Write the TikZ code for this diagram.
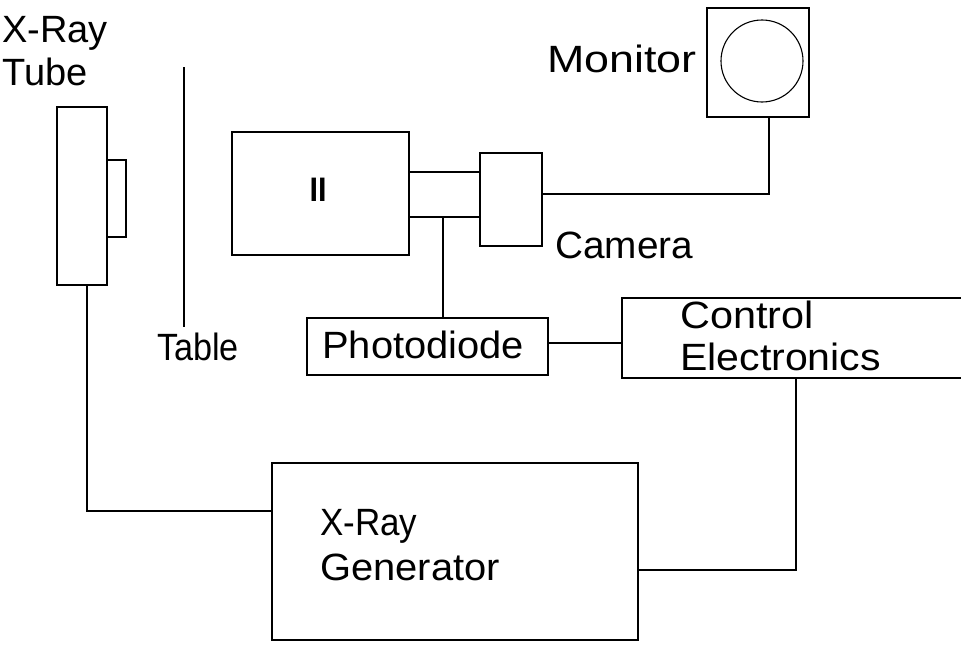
\documentclass[tikz,border=0pt]{standalone}
\usepackage{fontspec}
\usepackage{graphicx}
\setmainfont{Liberation Sans}
\tikzset{
  box/.style={draw, line width=1.3pt, inner sep=0pt, minimum width=#1},
  lbl/.style={inner sep=0pt, font=\fontsize{38}{44}\selectfont},
  wire/.style={line width=1.3pt}
}
\begin{document}
\begin{tikzpicture}[x=1pt,y=-1pt]
\useasboundingbox (0,0) rectangle (961,645);
\clip (0,0) rectangle (961,645);
% boxes
\node[box=50pt, minimum height=178pt] (tube) at (82,196) {};
\node[box=19pt, minimum height=77pt] (anode) at (116.5,198.5) {};
\node[box=177pt, minimum height=123pt] (ii) at (320.5,193.5) {};
\node[box=71pt, minimum height=45pt] (coupler) at (444.5,194.5) {};
\node[box=62pt, minimum height=93pt] (cam) at (511,199.5) {};
\node[box=102pt, minimum height=109pt] (mon) at (758,62.5) {};
\node[draw, line width=1.1pt, circle, minimum size=82pt, inner sep=0pt] (screen) at (762,61) {};
\node[box=241pt, minimum height=57pt] (pd) at (427.5,346.5) {};
\node[box=380pt, minimum height=80pt] (ctrl) at (812,338) {};
\node[box=366pt, minimum height=177pt] (gen) at (455,551.5) {};
% table
\draw[wire] (184,67) -- (184,327);
% labels
\node[lbl, anchor=base west] (l1) at (2,42) {X-Ray};
\node[lbl, anchor=base west] (l2) at (2,85) {Tube};
\node[lbl, anchor=base east] (l3) at (697,72) {\scalebox{1.18}[1]{Monitor}};
\node[inner sep=0pt, font=\fontsize{34}{38}\selectfont\bfseries, anchor=base] (l4) at (318,201) {\scalebox{0.9}[1]{II}};
\node[lbl, anchor=base west] (l5) at (555,258) {\scalebox{1.02}[1]{Camera}};
\node[lbl, anchor=base west] (l6) at (157,360) {\scalebox{0.9}[1]{Table}};
\node[lbl, anchor=base west] (l7) at (322,358) {\scalebox{1.05}[1]{Photodiode}};
\node[lbl, anchor=base west] (l8) at (680,328) {\scalebox{1.09}[1]{Control}};
\node[lbl, anchor=base west] (l9) at (680,370) {\scalebox{1.08}[1]{Electronics}};
\node[lbl, anchor=base west] (l10) at (320,535) {\scalebox{0.92}[1]{X-Ray}};
\node[lbl, anchor=base west] (l11) at (320,580) {\scalebox{1.05}[1]{Generator}};
% connectors
\coordinate (k1) at (87,511);
\coordinate (k2) at (769,194);
\coordinate (k3) at (796,570);
\draw[wire] (tube.south -| k1) -- (k1) -- (k1 -| gen.west);
\draw[wire] (cam.east |- k2) -- (k2) -- (k2 |- mon.south);
\draw[wire] (coupler.south -| 443,0) -- (pd.north -| 443,0);
\draw[wire] ([yshift=3.5pt]pd.east) -- ([yshift=3.5pt]pd.east -| ctrl.west);
\draw[wire] (ctrl.south -| k3) -- (k3) -- (k3 -| gen.east);
\end{tikzpicture}
\end{document}
